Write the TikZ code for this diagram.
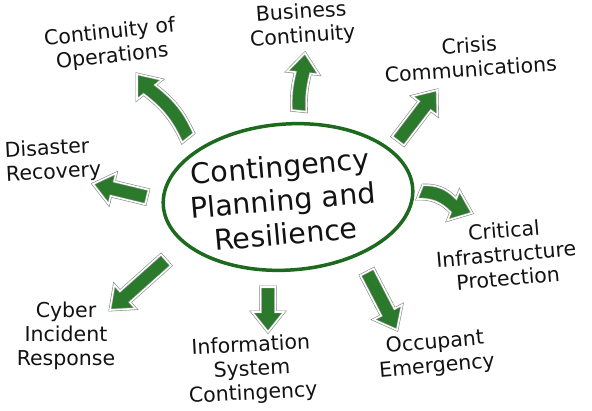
\documentclass[tikz,border=0pt]{standalone}
\usepackage{fontspec}
\setmainfont{DejaVu Sans}
\usetikzlibrary{calc,positioning,shapes.geometric}
\usepackage{xcolor}
\definecolor{leaf}{HTML}{2B7A2B}
\definecolor{ring}{HTML}{1D6A1F}
\definecolor{rim}{HTML}{7F8C80}
\definecolor{ink}{HTML}{121212}
\tikzset{
  hub/.style={ellipse,draw=ring,line width=3.5pt,minimum width=250pt,minimum height=146pt,inner sep=0pt},
  hubtext/.style={font=\fontsize{28.5}{34}\selectfont,align=center,text=ink,inner sep=0pt},
  topic/.style={font=\fontsize{20.5}{24}\selectfont,align=center,text=ink,inner sep=0pt},
  fatarrow/.style={fill=leaf,draw=rim,line width=0.6pt,double=white,double distance=1.6pt,line join=miter}
}
% fat arrow from #2 to #3, shaft bent by #1 degrees
\newcommand\bigarrow[3][0]{%
  \path let \p1=($(#3)-(#2)$) in \pgfextra{%
    \pgfmathsetmacro\arrang{atan2(\y1,\x1)}\global\let\arrang\arrang
    \pgfmathsetmacro\arrlen{veclen(\x1,\y1)}\global\let\arrlen\arrlen};
  \path[fatarrow,shift={(#2)},rotate=\arrang]
    (0pt,-7.5pt) to[bend left=#1] ({\arrlen pt-20pt},-7.5pt) -- ({\arrlen pt-20pt},-16pt)
    -- ({\arrlen pt},0pt) -- ({\arrlen pt-20pt},16pt) -- ({\arrlen pt-20pt},7.5pt)
    to[bend right=#1] (0pt,7.5pt) -- cycle;}

\begin{document}
\begin{tikzpicture}[x=1pt,y=-1pt]
\useasboundingbox (0,0) rectangle (592,410);

% arrow ends
\coordinate (coo-a) at (188,138);  \coordinate (coo-b) at (137,74);
\coordinate (bc-a) at (299,111);   \coordinate (bc-b) at (305,53);
\coordinate (cc-a) at (398,141);   \coordinate (cc-b) at (437,90);
\coordinate (dr-a) at (147,197);   \coordinate (dr-b) at (93,184);
\coordinate (cip-a) at (420,192);  \coordinate (cip-b) at (472,213);
\coordinate (cir-a) at (166,260);  \coordinate (cir-b) at (110,310);
\coordinate (isc-a) at (268,287);  \coordinate (isc-b) at (268,332);
\coordinate (oe-a) at (367,272);   \coordinate (oe-b) at (397,330);

\bigarrow[-14]{coo-a}{coo-b}
\bigarrow[8]{bc-a}{bc-b}
\bigarrow{cc-a}{cc-b}
\bigarrow{dr-a}{dr-b}
\bigarrow[24]{cip-a}{cip-b}
\bigarrow{cir-a}{cir-b}
\bigarrow{isc-a}{isc-b}
\bigarrow{oe-a}{oe-b}

\node[hub,rotate=4] (hub) at (288,197) {};
\node[hubtext,rotate=5] (title) at (283,200) {Contingency\\Planning and\\Resilience};

\node[topic,rotate=6] (coo) at (111,45) {Continuity of\\Operations};
\node[topic,rotate=4] (bc) at (302,25) {Business\\Continuity};
\node[topic,rotate=4] (cc) at (470,57) {Crisis\\Communications};
\node[topic,align=left,rotate=3] (dr) at (53,161) {Disaster\\Recovery};
\node[topic,rotate=5] (cip) at (506,254) {Critical\\Infrastructure\\Protection};
\node[topic] (cir) at (66,336) {Cyber\\Incident\\Response};
\node[topic,rotate=3] (isc) at (252,370) {Information\\System\\Contingency};
\node[topic,rotate=5] (oe) at (436,355) {Occupant\\Emergency};
\end{tikzpicture}
\end{document}
